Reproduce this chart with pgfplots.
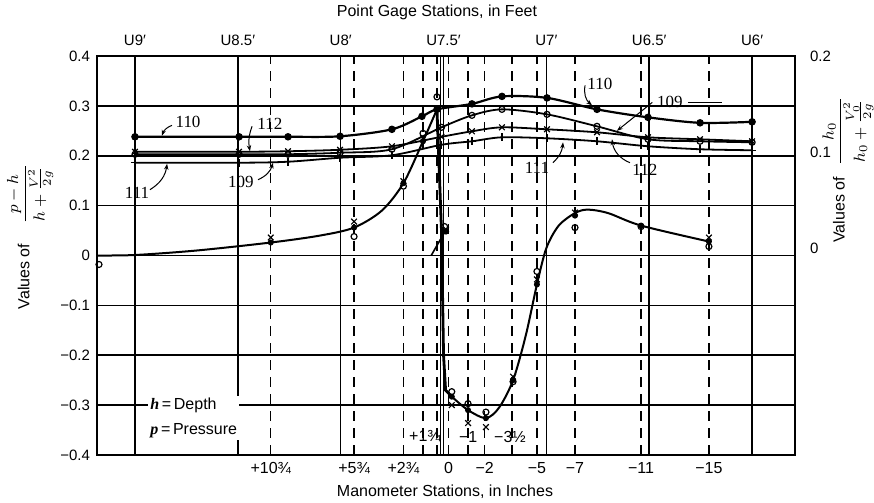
\documentclass[border=0pt]{standalone}
\usepackage{pgfplots}
\pgfplotsset{compat=1.18}
\usepackage{fontspec}
\setmainfont{Liberation Sans}
\newfontfamily\sernum{Liberation Serif}
\usetikzlibrary{arrows.meta}
\begin{document}
\begin{tikzpicture}[x=1pt,y=1pt]
\useasboundingbox (0,0) rectangle (437,251.5);
\pgfplotsset{
  common/.style={
    at={(48.5pt,24pt)}, anchor=south west,
    scale only axis, width=349pt, height=199.5pt,
    xmin=-0.1847, xmax=3.2086,
    major tick length=0pt,
    axis line style={line width=1.1pt},
    tick label style={font=\fontsize{7.5}{8}\selectfont},
    clip=false,
  }
}
% ---------- axis A: point gage stations (top) and right scale ----------
\begin{axis}[common,
  ymin=-0.215, ymax=0.2,
  xtick={0,0.5,1,1.5,2,2.5,3},
  xticklabels={U9′,U8.5′,U8′,U7.5′,U7′,U6.5′,U6′},
  xticklabel pos=top,
  xticklabel style={yshift=1.5pt},
  extra x ticks={1.485},
  extra x tick labels={},
  extra x tick style={grid=major},
  xmajorgrids,
  x grid style={line width=0.8pt, black},
  ytick={0,0.1,0.2},
  yticklabels={0,0.1,0.2},
  yticklabel pos=right,
  yticklabel style={xshift=4pt},
]
\end{axis}
% ---------- axis B: manometer stations, left scale, data ----------
\begin{axis}[common,
  ymin=-0.4, ymax=0.4,
  xtick={0.66,1.065,1.305,1.40,1.468,1.525,1.619,1.70,1.833,1.954,2.139,2.46,2.79},
  xticklabels={+10¾,+5¾,+2¾,,,0,,−2,,−5,−7,−11,−15},
  xticklabel style={font=\fontsize{8}{9}\selectfont},
  ytick={-0.4,-0.3,-0.2,-0.1,0,0.1,0.2,0.3,0.4},
  yticklabels={−0.4,−0.3,−0.2,−0.1,0,0.1,0.2,0.3,0.4},
  xmajorgrids, ymajorgrids,
  x grid style={line width=0.7pt, dash pattern=on 5pt off 3.5pt, black},
  y grid style={line width=0.8pt, black},
]
% upper curves
\addplot[black, line width=1.1pt, smooth, tension=0.5, mark=*, mark size=1.3pt] coordinates {
(0,0.238) (0.506,0.238) (0.744,0.238) (0.997,0.239) (1.249,0.253) (1.395,0.279) (1.468,0.293) (1.638,0.304) (1.784,0.319) (2.003,0.316) (2.246,0.293) (2.494,0.277) (2.747,0.266) (3.0,0.268)};
\addplot[black, line width=0.9pt, smooth, tension=0.5, mark=o, mark size=1.5pt, mark options={fill=white, line width=0.6pt}] coordinates {
(0,0.203) (0.506,0.203) (0.744,0.203) (0.997,0.206) (1.249,0.213) (1.49,0.257) (1.638,0.281) (1.784,0.293) (2.003,0.283) (2.246,0.259) (2.494,0.233) (2.747,0.229) (3.0,0.227)};
\addplot[black, line width=0.9pt, smooth, tension=0.5, mark=x, mark size=2pt, mark options={line width=0.6pt}] coordinates {
(0,0.208) (0.506,0.208) (0.744,0.209) (0.997,0.212) (1.249,0.219) (1.49,0.238) (1.638,0.249) (1.784,0.257) (2.003,0.253) (2.246,0.247) (2.494,0.237) (2.747,0.233) (3.0,0.229)};
\addplot[black, line width=0.9pt, smooth, tension=0.5, mark=+, mark size=2pt, mark options={line width=0.6pt}] coordinates {
(0,0.186) (0.506,0.186) (0.744,0.188) (0.997,0.196) (1.249,0.201) (1.49,0.222) (1.638,0.229) (1.784,0.237) (2.003,0.235) (2.246,0.229) (2.494,0.219) (2.747,0.213) (3.0,0.211)};
% lower curve (pressure)
\addplot[black, line width=1pt, smooth, tension=0.5] coordinates {
(-0.1847,0.0) (0.0,0.001) (0.3,0.01) (0.66,0.026) (0.9,0.04) (1.065,0.056) (1.2,0.09) (1.305,0.145) (1.40,0.229) (1.468,0.293)};
\addplot[black, line width=1.4pt] coordinates {
(1.468,0.293) (1.49,0.05) (1.50,-0.2) (1.51,-0.27) (1.54,-0.283)};
\addplot[black, line width=1pt, smooth, tension=0.5] coordinates {
(1.54,-0.283) (1.619,-0.31) (1.706,-0.326) (1.77,-0.305) (1.838,-0.25) (1.9,-0.16) (1.954,-0.058) (2.0,0.015) (2.06,0.06) (2.139,0.085) (2.2,0.092) (2.3,0.085) (2.46,0.06) (2.79,0.028)};
\addplot[black, line width=0.8pt] coordinates {(1.44,0.0) (1.507,0.048)};
\addplot[only marks, black, mark=*, mark size=1.3pt] coordinates {
(0.66,0.026) (1.065,0.056) (1.305,0.145) (1.40,0.229) (1.468,0.293) (1.512,0.048) (1.54,-0.283) (1.619,-0.31) (1.706,-0.326) (1.838,-0.25) (1.954,-0.058) (2.139,0.08) (2.46,0.06) (2.79,0.028)};
\addplot[only marks, black, mark=x, mark size=2pt, mark options={line width=0.6pt}] coordinates {
(0.66,0.036) (1.065,0.068) (1.305,0.149) (1.40,0.235) (1.512,0.052) (1.54,-0.30) (1.619,-0.336) (1.706,-0.344) (1.838,-0.243) (1.954,-0.048) (2.139,0.086) (2.79,0.036)};
\addplot[only marks, black, mark=o, mark size=1.5pt, mark options={fill=white, line width=0.6pt}] coordinates {
(-0.175,-0.018) (1.065,0.038) (1.305,0.139) (1.40,0.245) (1.468,0.318) (1.505,0.058) (1.54,-0.273) (1.619,-0.297) (1.706,-0.314) (1.838,-0.253) (1.954,-0.032) (2.139,0.056) (2.46,0.058) (2.79,0.018)};
% curve labels
\tikzset{cl/.style={font=\sernum\fontsize{8.5}{9}\selectfont, inner sep=0.5pt}, ar/.style={-{Stealth[length=3pt,width=2.2pt]}, line width=0.5pt}}
\node[cl] at (axis cs:0.258,0.267) {110};
\draw[ar] (axis cs:0.18,0.261) to[bend right=25] (axis cs:0.131,0.240);
\node[cl] at (axis cs:0.656,0.263) {112};
\draw[ar] (axis cs:0.569,0.259) to[bend right=15] (axis cs:0.559,0.209);
\node[cl] at (axis cs:0.01,0.126) {111};
\draw[ar] (axis cs:0.073,0.132) to[bend right=25] (axis cs:0.156,0.184);
\node[cl] at (axis cs:0.515,0.148) {109};
\draw[ar] (axis cs:0.598,0.152) to[bend right=25] (axis cs:0.671,0.186);
\node[cl] at (axis cs:2.26,0.343) {110};
\draw[ar] (axis cs:2.188,0.341) to[bend right=30] (axis cs:2.222,0.301);
\node[cl] at (axis cs:2.60,0.307) {109};
\draw[ar] (axis cs:2.515,0.307) -- (axis cs:2.343,0.250);
\draw[line width=0.5pt] (axis cs:2.688,0.307) -- (axis cs:2.854,0.307);
\node[cl] at (axis cs:2.479,0.172) {112};
\draw[ar] (axis cs:2.406,0.186) to[bend left=30] (axis cs:2.319,0.233);
\node[cl] at (axis cs:1.954,0.176) {111};
\draw[ar] (axis cs:2.032,0.186) to[bend right=20] (axis cs:2.081,0.227);
% inner manometer labels
\node[font=\fontsize{8}{9}\selectfont] at (axis cs:1.41,-0.363) {+1¾};
\node[font=\fontsize{8}{9}\selectfont] at (axis cs:1.62,-0.363) {−1};
\node[font=\fontsize{8}{9}\selectfont] at (axis cs:1.823,-0.363) {−3½};
% definitions box
\node[anchor=west, fill=white, inner sep=1pt, align=left, font=\fontsize{8}{12.5}\selectfont] at (axis cs:0.063,-0.325)
  {{\sernum\bfseries\itshape h}\,=\,Depth\\{\sernum\bfseries\itshape p}\,=\,Pressure};
% titles
\node[font=\fontsize{8}{9}\selectfont] at (axis cs:1.468,0.488) {Point Gage Stations, in Feet};
\node[font=\fontsize{8}{9}\selectfont] at (axis cs:1.507,-0.474) {Manometer Stations, in Inches};
\node[rotate=90, font=\fontsize{8}{9}\selectfont] at (axis cs:-0.51,0.038)
  {Values of\hspace{10pt}$\displaystyle\frac{p-h}{h+\frac{V^2}{2g}}$};
\node[rotate=90, font=\fontsize{8}{9}\selectfont] at (axis cs:3.466,0.172)
  {Values of\hspace{6pt}$\displaystyle\frac{h_0}{h_0+\frac{V_0^2}{2g}}$};
\end{axis}
\end{tikzpicture}
\end{document}
